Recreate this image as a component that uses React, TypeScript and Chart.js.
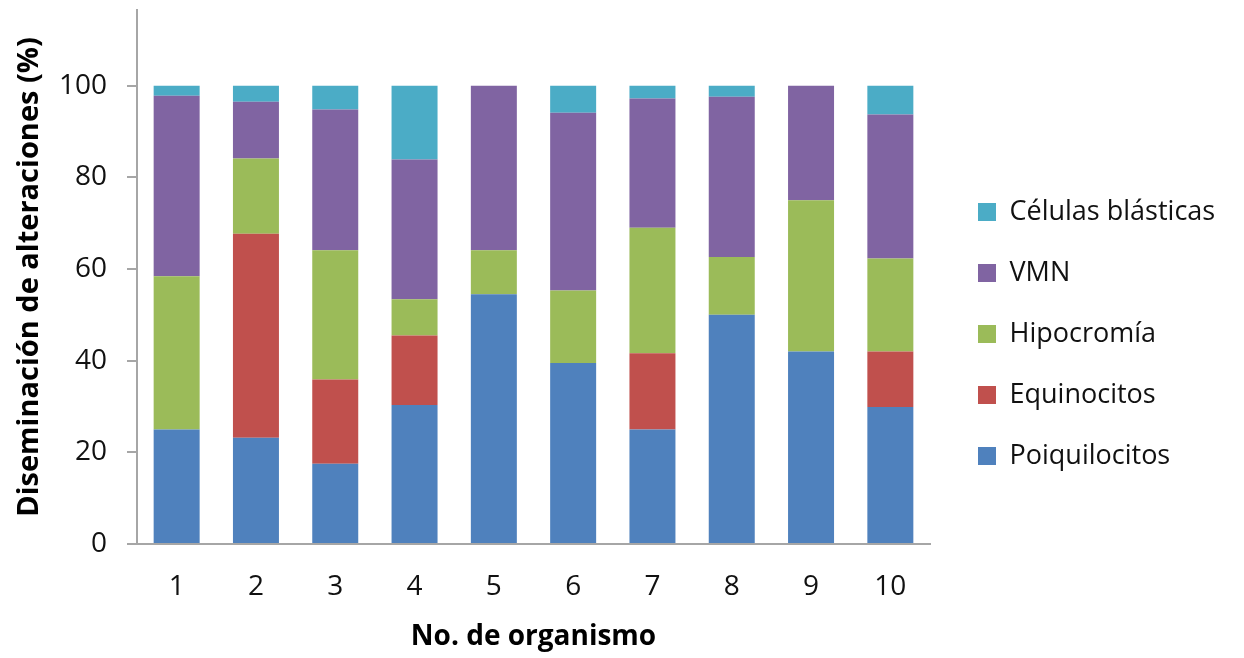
import React, { useEffect, useRef } from "react";
import { Chart, registerables } from "chart.js";

Chart.register(...registerables);

const categories = ["1", "2", "3", "4", "5", "6", "7", "8", "9", "10"];
const poiquilocitos = [25.0, 23.2, 17.5, 30.3, 54.5, 39.5, 25.0, 50.0, 42.0, 29.9];
const equinocitos = [0, 44.5, 18.4, 15.2, 0, 0, 16.6, 0, 0, 12.1];
const hipocromia = [33.4, 16.4, 28.2, 7.9, 9.6, 15.8, 27.4, 12.6, 33.0, 20.3];
const vmn = [39.4, 12.4, 30.7, 30.5, 35.9, 38.8, 28.2, 35.0, 25.0, 31.4];
const celulas = [2.2, 3.5, 5.2, 16.1, 0, 5.9, 2.8, 2.4, 0, 6.3];
const seriesNames = ["Poiquilocitos", "Equinocitos", "Hipocromía", "VMN", "Células blásticas"];
const seriesColors = ["#4F81BD", "#C0504D", "#9BBB59", "#8064A2", "#4BACC6"];
const yMax = 116.5;
const yStep = 20;
const xTitle = "No. de organismo";
const yTitle = "Diseminación de alteraciones (%)";

const FONT = "'Open Sans', Lato, sans-serif";
const AXIS_COLOR = "#a6a6a6";

export default function App() {
  const ref = useRef<HTMLCanvasElement | null>(null);

  useEffect(() => {
    if (!ref.current) return;
    const seriesData = [poiquilocitos, equinocitos, hipocromia, vmn, celulas];
    const legendFix = {
      id: "legendFix",
      afterInit(chart: any) {
        const lg = chart.legend;
        if (lg) {
          const orig = lg.fit.bind(lg);
          lg.fit = function () {
            orig();
            this.width = 314;
          };
        }
      },
      afterLayout(chart: any) {
        if (chart.legend) chart.legend.left += 14;
      },
    };
    const chart = new Chart(ref.current, {
      type: "bar",
      data: {
        labels: categories,
        datasets: seriesData.map((d, i) => ({
          label: seriesNames[i],
          data: d,
          backgroundColor: seriesColors[i],
          borderWidth: 0,
          barPercentage: 0.58,
          categoryPercentage: 1,
        })),
      },
      plugins: [legendFix],
      options: {
        responsive: true,
        maintainAspectRatio: false,
        animation: false,
        devicePixelRatio: 1,
        layout: { padding: { top: 10, left: 0, right: 0, bottom: 0 } },
        plugins: {
          tooltip: { enabled: false },
          legend: {
            display: true,
            position: "right",
            reverse: true,
            labels: {
              boxWidth: 18,
              boxHeight: 18,
              padding: 34,
              color: "#111",
              font: { family: FONT, size: 27 },
            },
          },
        },
        scales: {
          x: {
            stacked: true,
            grid: { display: false, drawTicks: false },
            border: { display: true, color: AXIS_COLOR, width: 2 },
            ticks: {
              color: "#111",
              padding: 26,
              font: { family: FONT, size: 28 },
              maxRotation: 0,
            },
            title: {
              display: true,
              text: xTitle,
              color: "#000",
              font: { family: FONT, size: 28, weight: "bold", lineHeight: 1.2 },
              padding: { top: 0, bottom: 4 },
            },
            afterFit(scale: any) {
              scale.height = 114;
              scale.paddingLeft = 0;
              scale.paddingRight = 0;
            },
          },
          y: {
            stacked: true,
            min: 0,
            max: yMax,
            grid: {
              display: true,
              drawOnChartArea: false,
              drawTicks: true,
              tickLength: 10,
              color: AXIS_COLOR,
              lineWidth: 2,
            },
            border: { display: true, color: AXIS_COLOR, width: 2 },
            ticks: {
              stepSize: yStep,
              includeBounds: false,
              color: "#111",
              padding: 20,
              font: { family: FONT, size: 28 },
              callback: (v: any) => (Number(v) <= 100 ? String(v) : ""),
            },
            title: {
              display: true,
              text: yTitle,
              color: "#000",
              font: { family: FONT, size: 29, weight: "bold", lineHeight: 1.2 },
              padding: { top: 12, bottom: 0 },
            },
            afterFit(scale: any) {
              scale.width = 137;
              scale.paddingTop = 0;
              scale.paddingBottom = 0;
            },
          },
        },
      } as any,
    });
    return () => chart.destroy();
  }, []);

  return (
    <div style={{ position: "fixed", left: 0, top: 0, width: 1244, height: 658, background: "#fff" }}>
      <canvas ref={ref} />
    </div>
  );
}
